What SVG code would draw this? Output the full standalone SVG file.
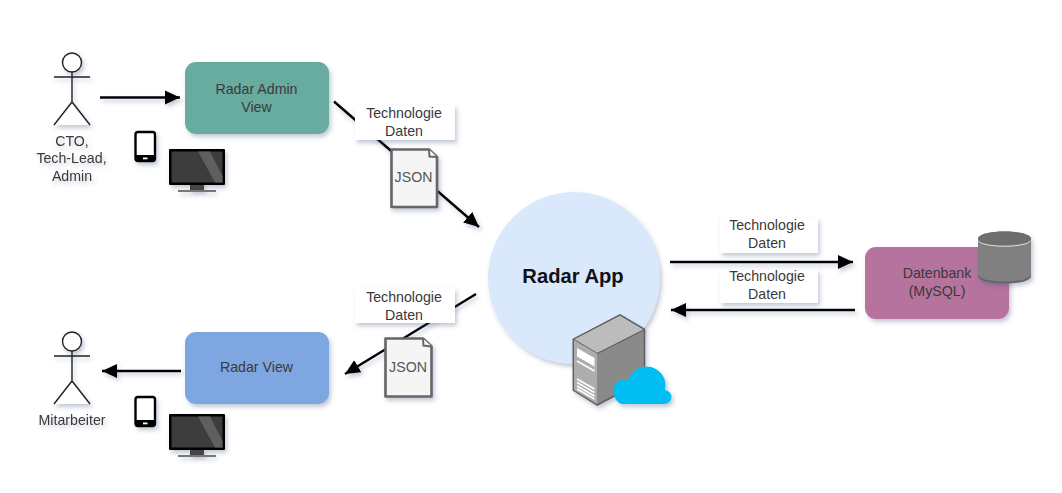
<svg xmlns="http://www.w3.org/2000/svg" xmlns:xlink="http://www.w3.org/1999/xlink" width="1062" height="493" viewBox="0 0 1062 493">
<style>
text{font-family:"Liberation Sans",Arial,sans-serif;font-size:14.2px;fill:#3a3a3a;text-anchor:middle}
.stick{fill:#fff;stroke:#222;stroke-width:1.4}
.conn{fill:none;stroke:#000;stroke-width:2.4}
.box{stroke:none}
.lab{fill:#fff}
.doc{fill:#f5f5f5;stroke:#666;stroke-width:2.6;stroke-linejoin:round}
.sh{filter:url(#s)}
</style>
<defs>
<filter id="s" x="-30%" y="-30%" width="170%" height="170%"><feDropShadow dx="2" dy="3" stdDeviation="2" flood-color="#4a5a80" flood-opacity=".32"/></filter>
<marker id="a" markerUnits="userSpaceOnUse" markerWidth="18" markerHeight="15" refX="15" refY="7.500" orient="auto"><path d="M0 .5L15 7.500L0 14.500Z" fill="#000"/></marker>
<symbol id="actor" overflow="visible"><path class="stick" d="M72 72V102M54 77H90M54 125L72 102L90 125"/><circle class="stick" cx="72" cy="62.500" r="9.500"/></symbol>
<symbol id="tablet" overflow="visible"><rect x="135.500" y="132" width="19.500" height="29" rx="2.500" fill="#fff" stroke="#000" stroke-width="2.400"/><path d="M135 155H155V158a3 3 0 0 1-3 3H138a3 3 0 0 1-3-3Z"/><rect x="143" y="157.500" width="4.500" height="1.800" fill="#fff"/></symbol>
<symbol id="monitor" overflow="visible"><path d="M190 184H204V190H190Z" fill="#444"/><rect x="178" y="190" width="38" height="2" fill="#777"/><rect x="169" y="149" width="56" height="36" rx="1" fill="#000"/><rect x="171.500" y="151.500" width="51" height="31" fill="#3d3d3d"/><path d="M198 151.500H210L222.500 176V182.500H215Z" fill="#5e5e5e"/></symbol>
</defs>
<rect width="1062" height="493" fill="#fff"/>
<g id="connectors" class="sh">
<path class="conn" marker-end="url(#a)" d="M100 97.500H180"/>
<path class="conn" marker-end="url(#a)" d="M334 101.500L479 227"/>
<path class="conn" marker-end="url(#a)" d="M476 294L345 374"/>
<path class="conn" marker-end="url(#a)" d="M670 262H853"/>
<path class="conn" marker-end="url(#a)" d="M855 310H671"/>
<path class="conn" marker-end="url(#a)" d="M181 371H102"/>
</g>
<g id="actor-admin"><use href="#actor" class="sh"/><g class="sh"><text x="72" y="146">CTO,</text><text x="71.500" y="163">Tech-Lead,</text><text x="72" y="181">Admin</text></g></g>
<g id="actor-employee"><use href="#actor" y="279" class="sh"/><text x="72" y="425" class="sh">Mitarbeiter</text></g>
<g id="admin-devices" class="sh"><use href="#tablet"/><use href="#monitor"/></g>
<g id="view-devices" class="sh"><use href="#tablet" y="265"/><use href="#monitor" y="265"/></g>
<g id="radar-admin-view"><rect class="box sh" x="185" y="62" width="144" height="72" rx="11" fill="#67ab9f"/><text x="256.500" y="94">Radar Admin</text><text x="256.500" y="112">View</text></g>
<g id="radar-view"><rect class="box sh" x="185" y="332" width="144" height="72" rx="11" fill="#7ea6e0"/><text x="256.500" y="372">Radar View</text></g>
<g id="radar-app"><circle class="sh" cx="574" cy="278" r="86" fill="#dae8fc"/><text x="573" y="283" style="font-size:20.200px;font-weight:bold;fill:#111">Radar App</text></g>
<g id="server" class="sh">
<path d="M573.300 339.300L620 315L644.500 329.500V380L597.300 405L573.300 390Z" fill="#8a8a8a" stroke="#5f5f5f" stroke-width="1.500" stroke-linejoin="round"/>
<path d="M573.300 339.300L620 315L644.500 329.500L597.300 353.500Z" fill="#bcbcbc" stroke="#5f5f5f" stroke-width="1.200" stroke-linejoin="round"/>
<path d="M574 340L597 353.500V404L574 390Z" fill="#adadad"/>
<path d="M577 348L594.500 358V370L577 360Z" fill="#fff"/>
<path d="M577 356.500L594.500 366.500V370.500L577 360.500Z" fill="#adadad"/>
<path d="M577 361L594.500 371M577 379L594.500 389M577 382.500L594.500 392.500M577 386L594.500 396M577 389L594.500 399" stroke="#fff" stroke-width="1.600" fill="none"/>
<path d="M622 404H664a7 7 0 0 0 1-14H665a19 19 0 0 0-37-9a10 10 0 0 0-14 12a11 11 0 0 0 8 11Z" fill="#00bef2"/>
</g>
<g id="database"><rect class="box sh" x="865" y="247" width="144" height="72" rx="11" fill="#b5739d"/><text x="937" y="278">Datenbank</text><text x="937" y="296">(MySQL)</text>
<g class="sh"><path d="M978 239C978 229 1031 229 1031 239V276C1031 286 978 286 978 276Z" fill="#808080"/><path d="M978 239C978 248 1031 248 1031 239V240C1031 249 978 249 978 240Z" fill="#dcdcdc"/><path d="M978 239C978 229 1031 229 1031 239C1031 247 978 247 978 239Z" fill="#6e6e6e"/><path d="M978 274C978 284 1031 284 1031 274V276C1031 286 978 286 978 276Z" fill="#666"/></g></g>
<g id="label-admin"><rect class="lab sh" x="355" y="105" width="100" height="35"/><text x="404" y="118">Technologie</text><text x="404" y="136">Daten</text></g>
<g id="label-view"><rect class="lab sh" x="355" y="288" width="100" height="35"/><text x="404" y="302">Technologie</text><text x="404" y="320">Daten</text></g>
<g id="label-db-in"><rect class="lab sh" x="720" y="218" width="98" height="35"/><text x="767" y="230">Technologie</text><text x="767" y="248">Daten</text></g>
<g id="label-db-out"><rect class="lab sh" x="720" y="270" width="98" height="33"/><text x="767" y="281">Technologie</text><text x="767" y="299">Daten</text></g>
<g id="doc-admin"><path class="doc sh" d="M391.500 149.500H429L437 157V207H391.500Z"/><path d="M429 149.500L429.500 156.500L437 157" fill="#fff" stroke="#666" stroke-width="2"/><text x="413.500" y="182" style="fill:#555">JSON</text></g>
<g id="doc-view"><path class="doc sh" d="M385.500 338.500H423L431.500 346.500V396.500H385.500Z"/><path d="M423 338.500L423.500 345.500L431.500 346.500" fill="#fff" stroke="#666" stroke-width="2"/><text x="408" y="372" style="fill:#555">JSON</text></g>
</svg>
